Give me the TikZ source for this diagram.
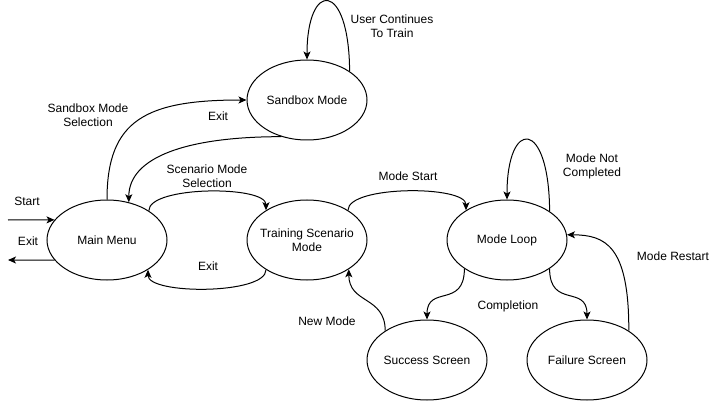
\documentclass[tikz,border=0pt]{standalone}
\usepackage{fontspec}
\setmainfont{Liberation Sans}
\usetikzlibrary{shapes.geometric,arrows.meta}
\tikzset{
  state/.style={ellipse,draw,line width=1pt,minimum width=120pt,minimum height=80pt,inner sep=0pt},
  txt/.style={align=center,inner sep=0pt,font=\fontsize{12}{14.2}\selectfont},
  conn/.style={draw,line width=1pt,-{Stealth[length=8pt,width=7pt,inset=2pt]}}
}
\begin{document}
\begin{tikzpicture}[x=1pt,y=-1pt]
\fill[white] (0,0) rectangle (718,401);
\useasboundingbox (0,0) rectangle (718,401);
% states
\node[state] (mm) at (107,240) {};
\node[state] (sb) at (307,100) {};
\node[state] (tsm) at (307,240) {};
\node[state] (ml) at (507,240) {};
\node[state] (ss) at (427,360) {};
\node[state] (fs) at (587,360) {};
\node[txt] (mmt) at (mm) {Main Menu};
\node[txt] (sbt) at (sb) {Sandbox Mode};
\node[txt] (tsmt) at (tsm) {Training Scenario\\Mode};
\node[txt] (mlt) at (ml) {Mode Loop};
\node[txt] (sst) at (ss) {Success Screen};
\node[txt] (fst) at (fs) {Failure Screen};
% free ends
\coordinate (startpt) at (8,220);
\coordinate (exitpt) at (8,260);
% connectors
\draw[conn] (startpt) -- (mm.159);
\draw[conn] (mm.201) -- (exitpt);
\draw[conn] (mm.north) .. controls +(0,-80) and +(-100,0) .. (sb.west);
\draw[conn] (sb.235) .. controls +(-95,0) and +(0,-45) .. (mm.60);
\draw[conn] (sb.34) .. controls (349,-20) and (307,-20) .. (sb.north);
\draw[conn] (mm.35) .. controls +(0,-25) and +(0,-25) .. (tsm.144);
\draw[conn] (tsm.216) .. controls +(0,25) and +(0,25) .. (mm.324);
\draw[conn] (tsm.36) .. controls +(0,-25) and +(0,-25) .. (ml.144);
\draw[conn] (ml.34) .. controls (549,118) and (507,118) .. (ml.north);
\draw[conn] (ml.214) .. controls +(0,40) and +(0,-35) .. (ss.north);
\draw[conn] (ml.326) .. controls +(0,40) and +(0,-35) .. (fs.north);
\draw[conn] (fs.35) .. controls (629,245) and (605,235) .. (ml.5);
\draw[conn] (ss.145) .. controls +(0,-35) and +(0,35) .. (tsm.325);
% labels
\node[txt] (l1) at (27,201) {Start};
\node[txt] (l2) at (28,241) {Exit};
\node[txt] (l3) at (88,115) {Sandbox Mode\\Selection};
\node[txt] (l4) at (218,116) {Exit};
\node[txt] (l5) at (392,26) {User Continues\\To Train};
\node[txt] (l6) at (207,176) {Scenario Mode\\Selection};
\node[txt] (l7) at (208,266) {Exit};
\node[txt] (l8) at (408,176) {Mode Start};
\node[txt] (l9) at (592,166) {Mode Not\\Completed};
\node[txt] (l10) at (508,306) {Completion};
\node[txt] (l11) at (673,256) {Mode Restart};
\node[txt] (l12) at (327,321) {New Mode};
\end{tikzpicture}
\end{document}
